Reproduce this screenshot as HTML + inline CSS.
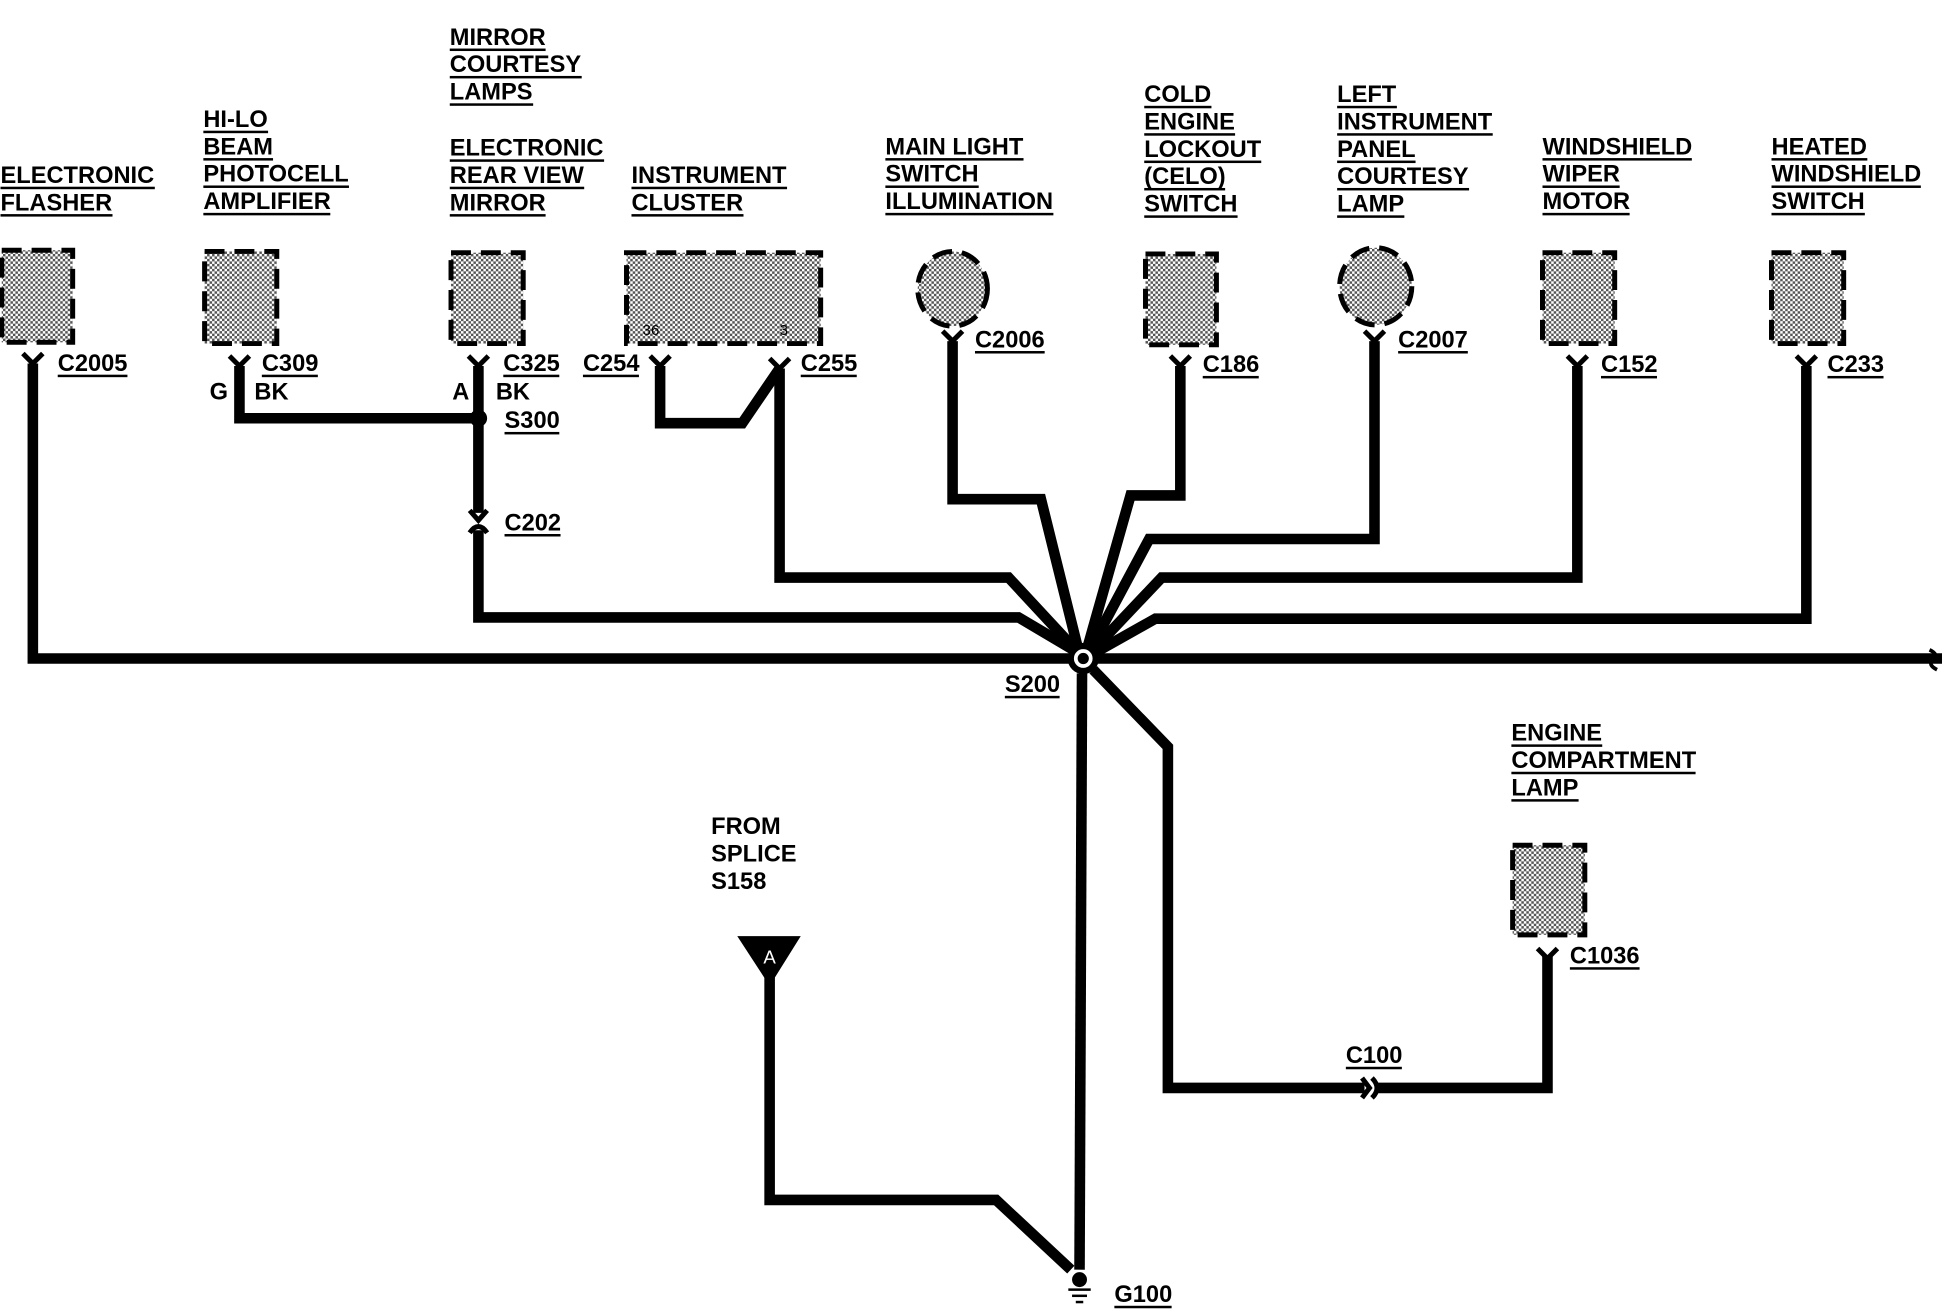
<!DOCTYPE html>
<html><head><meta charset="utf-8"><style>
html,body{margin:0;padding:0;background:#fff;}
#wrap{position:relative;width:1944px;height:1312px;overflow:hidden;}
#c{position:absolute;left:-2px;top:0;width:1562px;height:1054px;transform:scale(1.24456,1.24478);transform-origin:0 0;}
svg{position:absolute;left:0;top:0;}
.l{position:absolute;font-family:"Liberation Sans",sans-serif;font-weight:bold;font-size:19px;line-height:22px;color:#000;white-space:nowrap;}
.l span{display:inline-block;line-height:17px;border-bottom:2px solid #000;}
.n span{border-bottom:none;}
</style></head><body><div id="wrap"><div id="c">
<svg width="1562" height="1054" viewBox="0 0 1562 1054">
<defs><pattern id="st" width="4" height="4" patternUnits="userSpaceOnUse"><rect width="4" height="4" fill="#fff"/><rect width="2" height="2" fill="#555"/><rect x="2" y="2" width="2" height="2" fill="#555"/></pattern></defs>
<g fill="url(#st)" stroke="#000" stroke-width="4" stroke-dasharray="16 8">
<rect x="3" y="201" width="57" height="74"/>
<rect x="166" y="202" width="58" height="74"/>
<rect x="364" y="203" width="58" height="73"/>
<rect x="505" y="203" width="156" height="73"/>
<ellipse cx="767" cy="232" rx="28" ry="30"/>
<rect x="922" y="204" width="57" height="73"/>
<ellipse cx="1107" cy="230" rx="29" ry="31"/>
<rect x="1241" y="203" width="58" height="73"/>
<rect x="1425" y="203" width="58" height="73"/>
<rect x="1217" y="679" width="58" height="72"/>
</g>
<text x="518" y="269" font-family="Liberation Sans" font-size="12">36</text>
<text x="628" y="269" font-family="Liberation Sans" font-size="12">3</text>
<g fill="none" stroke="#000" stroke-width="8.5" stroke-linejoin="miter">
<polyline points="28,292 28,529 862,529"/>
<line x1="882" y1="529" x2="1562" y2="529"/>
<polyline points="194,294 194,336 386,336"/>
<line x1="386" y1="294" x2="386" y2="412"/>
<polyline points="386,426 386,496 820,496 864,522"/>
<polyline points="532,294 532,340 598,340 628,296"/>
<polyline points="628,296 628,464 812,464 864,520"/>
<polyline points="767,274 767,401 838,401 867,518"/>
<polyline points="950,294 950,398 910,398 876,518"/>
<polyline points="1106,274 1106,433 925,433 879,519"/>
<polyline points="1269,294 1269,464 935,464 881,521"/>
<polyline points="1453,294 1453,497 930,497 882,524"/>
<line x1="871" y1="541" x2="869" y2="1020"/>
<polyline points="880,538 940,600 940,874 1098,874"/>
<polyline points="1108,874 1245,874 1245,768"/>
<polyline points="620,785 620,964 802,964 862,1020"/>
</g>
<g fill="none" stroke="#000" stroke-width="4">
<path d="M20,284 L28,292 L36,284"/><path d="M186,286 L194,294 L202,286"/>
<path d="M378,286 L386,294 L394,286"/><path d="M524,286 L532,294 L540,286"/>
<path d="M620,288 L628,296 L636,288"/><path d="M759,266 L767,274 L775,266"/>
<path d="M942,286 L950,294 L958,286"/><path d="M1098,266 L1106,274 L1114,266"/>
<path d="M1261,286 L1269,294 L1277,286"/><path d="M1445,286 L1453,294 L1461,286"/>
<path d="M1237,762 L1245,770 L1253,762"/>
<path d="M379,410 L386,418 L393,410"/><path d="M379,428 Q386,418 393,428"/>
<path d="M1096,866 L1102,874 L1096,882"/><path d="M1104,866 Q1112,874 1104,882"/>
<path d="M1552,522 Q1560,526 1555,530 Q1550,534 1558,538" stroke-width="3"/>
</g>
<circle cx="386" cy="336" r="7" fill="#000"/>
<circle cx="872" cy="529" r="10" fill="#fff" stroke="#000" stroke-width="5"/>
<circle cx="872" cy="529" r="4.5" fill="#000"/>
<polygon points="594,752 645,752 620,792" fill="#000"/>
<text x="620" y="774" font-family="Liberation Sans" font-size="15" fill="#fff" text-anchor="middle">A</text>
<circle cx="869" cy="1028" r="6" fill="#000"/>
<g stroke="#000" stroke-width="2"><line x1="860" y1="1036" x2="878" y2="1036"/><line x1="863" y1="1041" x2="875" y2="1041"/><line x1="866" y1="1046" x2="872" y2="1046"/></g>
</svg>
<div class="l" style="left:2px;top:131px"><span>ELECTRONIC</span><br><span>FLASHER</span></div>
<div class="l" style="left:165px;top:86px"><span>HI-LO</span><br><span>BEAM</span><br><span>PHOTOCELL</span><br><span>AMPLIFIER</span></div>
<div class="l" style="left:363px;top:20px"><span>MIRROR</span><br><span>COURTESY</span><br><span>LAMPS</span></div>
<div class="l" style="left:363px;top:109px"><span>ELECTRONIC</span><br><span>REAR VIEW</span><br><span>MIRROR</span></div>
<div class="l" style="left:509px;top:131px"><span>INSTRUMENT</span><br><span>CLUSTER</span></div>
<div class="l" style="left:713px;top:108px"><span>MAIN LIGHT</span><br><span>SWITCH</span><br><span>ILLUMINATION</span></div>
<div class="l" style="left:921px;top:66px"><span>COLD</span><br><span>ENGINE</span><br><span>LOCKOUT</span><br><span>(CELO)</span><br><span>SWITCH</span></div>
<div class="l" style="left:1076px;top:66px"><span>LEFT</span><br><span>INSTRUMENT</span><br><span>PANEL</span><br><span>COURTESY</span><br><span>LAMP</span></div>
<div class="l" style="left:1241px;top:108px"><span>WINDSHIELD</span><br><span>WIPER</span><br><span>MOTOR</span></div>
<div class="l" style="left:1425px;top:108px"><span>HEATED</span><br><span>WINDSHIELD</span><br><span>SWITCH</span></div>
<div class="l" style="left:1216px;top:579px"><span>ENGINE</span><br><span>COMPARTMENT</span><br><span>LAMP</span></div>
<div class="l n" style="left:573px;top:654px"><span>FROM</span><br><span>SPLICE</span><br><span>S158</span></div>
<div class="l" style="left:48px;top:282px"><span>C2005</span></div>
<div class="l" style="left:212px;top:282px"><span>C309</span></div>
<div class="l n" style="left:170px;top:305px"><span>G</span></div>
<div class="l n" style="left:206px;top:305px"><span>BK</span></div>
<div class="l" style="left:406px;top:282px"><span>C325</span></div>
<div class="l n" style="left:365px;top:305px"><span>A</span></div>
<div class="l n" style="left:400px;top:305px"><span>BK</span></div>
<div class="l" style="left:407px;top:328px"><span>S300</span></div>
<div class="l" style="left:407px;top:410px"><span>C202</span></div>
<div class="l" style="left:470px;top:282px"><span>C254</span></div>
<div class="l" style="left:645px;top:282px"><span>C255</span></div>
<div class="l" style="left:785px;top:263px"><span>C2006</span></div>
<div class="l" style="left:968px;top:283px"><span>C186</span></div>
<div class="l" style="left:1125px;top:263px"><span>C2007</span></div>
<div class="l" style="left:1288px;top:283px"><span>C152</span></div>
<div class="l" style="left:1470px;top:283px"><span>C233</span></div>
<div class="l" style="left:809px;top:540px"><span>S200</span></div>
<div class="l" style="left:1263px;top:758px"><span>C1036</span></div>
<div class="l" style="left:1083px;top:838px"><span>C100</span></div>
<div class="l" style="left:897px;top:1030px"><span>G100</span></div>
</div></div></body></html>
